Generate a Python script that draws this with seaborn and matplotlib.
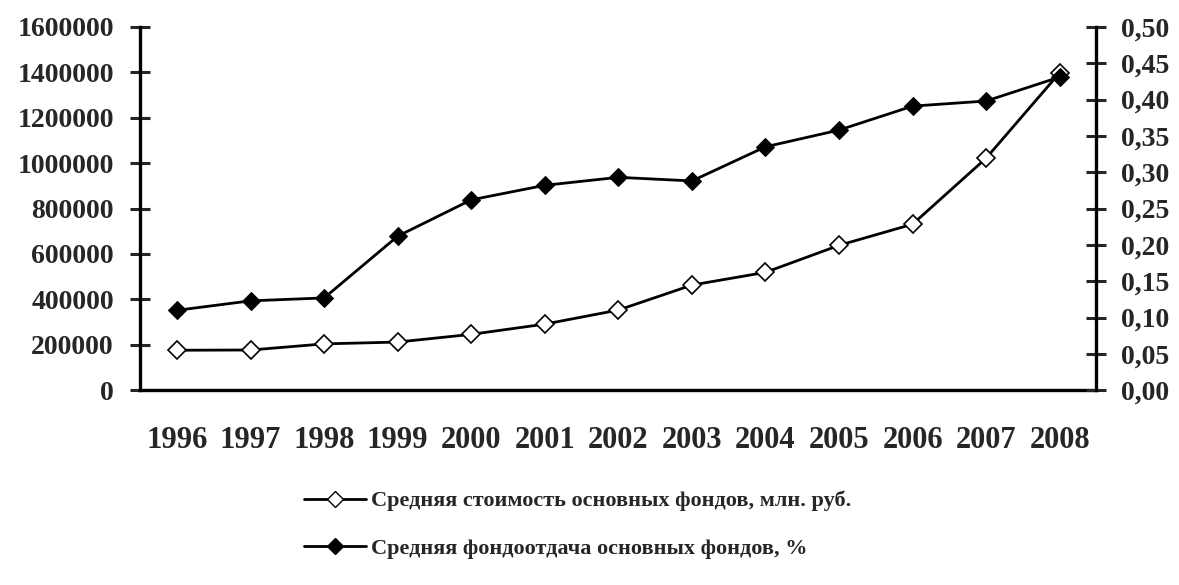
import numpy as np
import pandas as pd
import matplotlib
matplotlib.use("Agg")
import matplotlib.pyplot as plt
import seaborn as sns
from matplotlib.lines import Line2D

# ---------------------------
# Data
# ---------------------------
years = ["1996", "1997", "1998", "1999", "2000", "2001", "2002",
         "2003", "2004", "2005", "2006", "2007", "2008"]
avg_cost = [176000, 177000, 204000, 212000, 246000, 291000, 353000,
            463000, 519000, 638000, 731000, 1022000, 1398000]
avg_return = [0.110, 0.123, 0.127, 0.212, 0.262, 0.282, 0.293,
              0.288, 0.335, 0.358, 0.391, 0.398, 0.431]

label_cost = "Средняя стоимость основных фондов, млн. руб."
label_return = "Средняя фондоотдача основных фондов, %"

df = pd.DataFrame({"pos": np.arange(len(years)), "year": years,
                   "cost": avg_cost, "ret": avg_return})

sns.set_theme(style="white")
plt.rcParams['font.family'] = ['Liberation Serif', 'DejaVu Serif']
plt.rcParams['font.weight'] = 'bold'

fig = plt.figure(figsize=(11.79, 5.85), dpi=100)
ax = fig.add_axes([0.119, 0.333, 0.811, 0.621])
ax2 = ax.twinx()

sns.lineplot(data=df, x="pos", y="cost", ax=ax, color="black", lw=2,
             marker="D", markersize=9, markerfacecolor="white",
             markeredgecolor="black", markeredgewidth=1.2)
sns.lineplot(data=df, x="pos", y="ret", ax=ax2, color="black", lw=2,
             marker="D", markersize=9, markerfacecolor="black",
             markeredgecolor="black")

n = len(years)
ax.set_xlim(-0.5, n - 0.5)
ax.set_ylim(0, 1600000)
ax2.set_ylim(0, 0.5)

# year labels at category centres, tick marks on category boundaries
ax.set_xticks(np.arange(n))
ax.set_xticklabels(years, fontsize=22, fontweight="bold")
ax.set_xticks(np.arange(n + 1) - 0.5, minor=True)
ax.tick_params(axis="x", which="major", length=0, pad=26)
ax.tick_params(axis="x", which="minor", length=16, width=2.2, direction="inout")

ax.set_yticks(np.arange(0, 1600001, 200000))
ax.set_yticklabels([str(v) for v in range(0, 1600001, 200000)],
                   fontsize=20, fontweight="bold")
ax.tick_params(axis="y", length=14, width=2.2, direction="inout", pad=12, left=True)

ticks2 = np.arange(0, 0.501, 0.05)
ax2.set_yticks(ticks2)
ax2.set_yticklabels([f"{v:.2f}".replace(".", ",") for v in ticks2],
                    fontsize=20, fontweight="bold")
ax2.tick_params(axis="y", length=14, width=2.2, direction="inout", pad=11, right=True)

for a in (ax, ax2):
    a.set_xlabel("")
    a.set_ylabel("")
    a.spines["top"].set_visible(False)
    for s in ("left", "right", "bottom"):
        a.spines[s].set_linewidth(2.4)
        a.spines[s].set_color("black")
ax.spines["right"].set_visible(False)
ax2.spines["left"].set_visible(False)
ax2.spines["bottom"].set_visible(False)

handles = [
    Line2D([], [], color="black", lw=2, marker="D", markersize=8,
           markerfacecolor="white", markeredgecolor="black"),
    Line2D([], [], color="black", lw=2, marker="D", markersize=8,
           markerfacecolor="black", markeredgecolor="black"),
]
fig.legend(handles, [label_cost, label_return], loc="upper center",
           bbox_to_anchor=(0.49, 0.195), frameon=False, ncol=1,
           prop={"size": 16, "weight": "bold"}, labelspacing=1.2,
           handlelength=2.8, handletextpad=0.25)

fig.savefig("out.png", dpi=100)
plt.close(fig)
